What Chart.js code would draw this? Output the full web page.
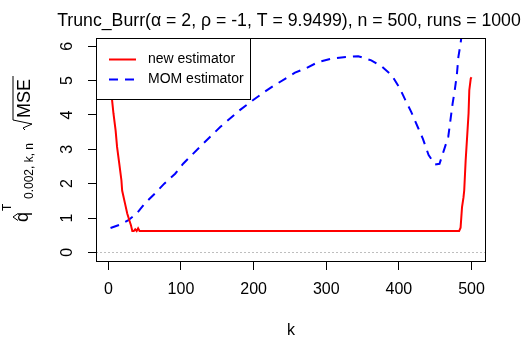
<!DOCTYPE html>
<html>
<head>
<meta charset="utf-8">
<script src="https://cdn.jsdelivr.net/npm/chart.js@4.4.1/dist/chart.umd.min.js"></script>
<style>
  html, body { margin: 0; padding: 0; background: #fff; }
  canvas { display: block; }
</style>
</head>
<body>
<canvas id="chart" width="524" height="338"></canvas>
<script>
// k values and estimator curves
const kNew = [4, 5, 7, 10, 12, 15, 18, 19, 23, 26, 29, 31, 33, 35, 37, 39, 41, 43, 483, 485, 487, 489, 490, 492, 494, 496, 497, 499, 500];
const newEst = [5.2, 4.46, 4.05, 3.55, 3.07, 2.59, 2.1, 1.8, 1.42, 1.13, 0.93, 0.8, 0.62, 0.62, 0.67, 0.62, 0.7, 0.62, 0.62, 0.72, 1.32, 1.6, 1.8, 2.68, 3.36, 4.05, 4.72, 5.06, 5.1];

const kMom = [3, 15, 27, 39, 50, 64, 77, 92, 103, 126, 154, 181, 199, 215, 227, 257, 273, 289, 307, 327, 344, 362, 377, 390, 401, 409, 417, 426, 433, 441, 450, 456, 462, 468, 471, 474, 477, 480, 482, 485, 488];
const momEst = [0.71, 0.8, 0.93, 1.13, 1.42, 1.71, 2.0, 2.29, 2.58, 3.07, 3.65, 4.14, 4.43, 4.67, 4.84, 5.23, 5.37, 5.54, 5.64, 5.69, 5.71, 5.59, 5.4, 5.16, 4.79, 4.43, 4.09, 3.65, 3.31, 2.83, 2.56, 2.58, 2.97, 3.36, 3.84, 4.33, 4.72, 5.2, 5.69, 6.08, 6.6];

const xTicks = [0, 100, 200, 300, 400, 500];
const yTicks = [0, 1, 2, 3, 4, 5, 6];
const legendLabels = ['new estimator', 'MOM estimator'];
const mainTitle = 'Trunc_Burr(\u03b1 = 2, \u03c1 = -1, T = 9.9499), n = 500, runs = 1000';

const FONT = "'Liberation Sans', Arial, sans-serif";
const RED = '#ff0000';
const BLUE = '#0000ff';

function toPoints(xs, ys) {
    return xs.map((x, i) => ({ x: x, y: ys[i] }));
}

// R-like decorations: box, dotted zero line, legend, title, rotated y labels
const rDecor = {
    id: 'rDecor',
    beforeDatasetsDraw(chart) {
        const ctx = chart.ctx;
        const a = chart.chartArea;
        const y0 = Math.round(chart.scales.y.getPixelForValue(0)) + 0.5;
        ctx.save();
        ctx.strokeStyle = '#bebebe';
        ctx.lineWidth = 1;
        ctx.setLineDash([2, 2]);
        ctx.beginPath();
        ctx.moveTo(a.left, y0);
        ctx.lineTo(a.right, y0);
        ctx.stroke();
        ctx.restore();
    },
    afterDatasetsDraw(chart) {
        const ctx = chart.ctx;
        const a = chart.chartArea;
        ctx.save();

        // legend
        const lx = a.left + 0.5, ly = a.top + 0.5, lw = 154, lh = 61;
        ctx.fillStyle = '#fff';
        ctx.fillRect(lx, ly, lw, lh);
        ctx.strokeStyle = '#000';
        ctx.lineWidth = 1;
        ctx.strokeRect(lx, ly, lw, lh);
        const rows = [a.top + 21.5, a.top + 41.5];
        const cols = [RED, BLUE];
        const dashes = [[], [9, 7]];
        rows.forEach((ry, i) => {
            ctx.strokeStyle = cols[i];
            ctx.lineWidth = 2;
            ctx.setLineDash(dashes[i]);
            ctx.beginPath();
            ctx.moveTo(a.left + 13, ry);
            ctx.lineTo(a.left + 40, ry);
            ctx.stroke();
            ctx.setLineDash([]);
            ctx.fillStyle = '#000';
            ctx.font = '14px ' + FONT;
            ctx.textAlign = 'left';
            ctx.textBaseline = 'middle';
            ctx.fillText(legendLabels[i], a.left + 52, ry);
        });

        // box
        ctx.strokeStyle = '#000';
        ctx.lineWidth = 1;
        ctx.strokeRect(a.left + 0.5, a.top + 0.5, a.right - a.left - 1, a.bottom - a.top - 1);

        // title
        ctx.fillStyle = '#000';
        ctx.font = '17.7px ' + FONT;
        ctx.textAlign = 'center';
        ctx.textBaseline = 'alphabetic';
        ctx.fillText(mainTitle, 289, 26);

        // x label
        ctx.font = '16px ' + FONT;
        ctx.fillText('k', (a.left + a.right) / 2, 335);

        // y tick labels, rotated like R
        const ys = chart.scales.y;
        ys.ticks.forEach(t => {
            const py = ys.getPixelForValue(t.value);
            ctx.save();
            ctx.translate(72, py);
            ctx.rotate(-Math.PI / 2);
            ctx.textAlign = 'center';
            ctx.textBaseline = 'alphabetic';
            ctx.font = '16px ' + FONT;
            ctx.fillText(String(t.value), 0, 0);
            ctx.restore();
        });

        // y label: q-hat^T_{0.002, k, n}  sqrt(MSE)
        ctx.save();
        ctx.translate(28, 222);
        ctx.rotate(-Math.PI / 2);
        ctx.textAlign = 'left';
        ctx.textBaseline = 'alphabetic';
        ctx.font = '18px ' + FONT;
        ctx.fillText('q', 0, 0);
        ctx.lineWidth = 1;
        ctx.beginPath();
        ctx.moveTo(1.5, -10);
        ctx.lineTo(5, -15);
        ctx.lineTo(8.5, -10);
        ctx.stroke();
        ctx.font = '12px ' + FONT;
        ctx.fillText('T', 11, -17);
        ctx.fillText('0.002, k, n', 23, 5);
        ctx.font = '18px ' + FONT;
        ctx.fillText('MSE', 104, 2);
        ctx.beginPath();
        ctx.moveTo(92, -3);
        ctx.lineTo(94, -5);
        ctx.lineTo(98, 4);
        ctx.lineTo(102, -15);
        ctx.lineTo(146, -15);
        ctx.stroke();
        ctx.restore();

        ctx.restore();
    }
};

const config = {
    type: 'line',
    data: {
        datasets: [
            {
                label: legendLabels[0],
                data: toPoints(kNew, newEst),
                borderColor: RED,
                borderWidth: 2,
                pointRadius: 0,
                tension: 0
            },
            {
                label: legendLabels[1],
                data: toPoints(kMom, momEst),
                borderColor: BLUE,
                borderWidth: 2,
                borderDash: [9, 7],
                pointRadius: 0,
                tension: 0
            }
        ]
    },
    options: {
        responsive: false,
        animation: false,
        devicePixelRatio: 1,
        layout: { padding: { left: 0, top: 38, right: 38, bottom: 0 } },
        plugins: {
            legend: { display: false },
            title: { display: false },
            tooltip: { enabled: false }
        },
        scales: {
            x: {
                type: 'linear',
                min: -17,
                max: 520,
                afterBuildTicks: s => { s.ticks = xTicks.map(v => ({ value: v })); },
                afterFit: s => { s.height = 76; },
                border: { display: false },
                grid: { drawOnChartArea: false, tickLength: 8, color: '#000', lineWidth: 1 },
                ticks: { color: '#000', padding: 10, maxRotation: 0, font: { family: FONT, size: 16 } }
            },
            y: {
                type: 'linear',
                min: -0.28,
                max: 6.24,
                afterBuildTicks: s => { s.ticks = yTicks.map(v => ({ value: v })); },
                afterFit: s => { s.width = 96; },
                border: { display: false },
                grid: { drawOnChartArea: false, tickLength: 8, color: '#000', lineWidth: 1 },
                ticks: { display: false }
            }
        }
    },
    plugins: [rDecor]
};

const chart = new Chart(document.getElementById('chart'), config);
</script>
</body>
</html>
